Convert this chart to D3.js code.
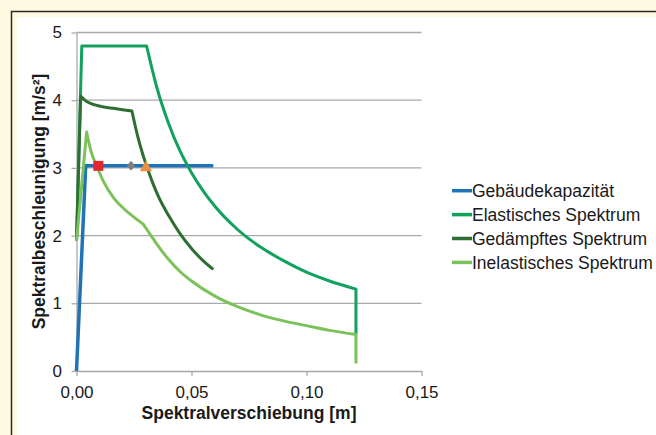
<!DOCTYPE html>
<html>
<head>
<meta charset="utf-8">
<script src="https://cdn.jsdelivr.net/npm/d3@7"></script>
<style>
  body { margin: 0; background: #fefbe2; }
  svg { display: block; font-family: "Liberation Sans", Arial, sans-serif; }
</style>
</head>
<body>
<svg width="656" height="435"></svg>
<script>
// data: [Spektralverschiebung (m), Spektralbeschleunigung (m/s²)]
const capacity = [[0, 0], [0.004, 3.03], [0.0595, 3.03]]

const elastic = [[0, 1.92], [0.0023, 4.8], [0.0305, 4.8], [0.035, 4.18], [0.04, 3.66],
                 [0.045, 3.25], [0.05, 2.93], [0.06, 2.44], [0.07, 2.09], [0.08, 1.83],
                 [0.09, 1.63], [0.10, 1.46], [0.11, 1.33], [0.1215, 1.21], [0.1215, 0.54]]

const damped = [[0, 1.92], [0.0018, 4.06], [0.004, 3.99], [0.008, 3.93], [0.012, 3.9],
                [0.016, 3.88], [0.02, 3.86], [0.0241, 3.84], [0.0265, 3.48], [0.029, 3.18],
                [0.0308, 3.0], [0.033, 2.79], [0.0356, 2.58], [0.04, 2.3], [0.045, 2.03],
                [0.05, 1.81], [0.055, 1.63], [0.0595, 1.5]]

const inelastic = [[0, 1.92], [0.0044, 3.53], [0.0062, 3.26], [0.0089, 3.02], [0.0117, 2.8],
                   [0.0163, 2.55], [0.0205, 2.4], [0.0247, 2.28], [0.029, 2.17], [0.032, 2.02],
                   [0.035, 1.87], [0.04, 1.65], [0.045, 1.47], [0.05, 1.33], [0.06, 1.11],
                   [0.07, 0.95], [0.08, 0.83], [0.09, 0.74], [0.10, 0.67], [0.11, 0.6],
                   [0.1215, 0.54], [0.1215, 0.11]]

// indices where a curve has a sharp corner (smooth runs in between)
const capacityCorners = [0, 1, 2]
const elasticCorners = [0, 1, 2, 13, 14]
const dampedCorners = [0, 1, 7, 17]
const inelasticCorners = [0, 1, 8, 20, 21]

const seriesNames = ['Gebäudekapazität', 'Elastisches Spektrum', 'Gedämpftes Spektrum', 'Inelastisches Spektrum']
const seriesColors = ['#1f73b7', '#12a15e', '#2e6e31', '#7cc25b']

// performance points on the capacity line
const markerX = [0.0095, 0.0237, 0.0302]
const markerY = [3.03, 3.03, 3.03]
const markerColors = ['#e3262b', '#7f7f7f', '#f0903c']

const xTicks = [0, 0.05, 0.10, 0.15]
const yTicks = [0, 1, 2, 3, 4, 5]

const svg = d3.select('svg')

// frame: yellow page, dark border, white chart area
svg.append('rect').attr('width', 656).attr('height', 435).attr('fill', '#fefbe2')
svg.append('rect').attr('x', 17).attr('y', 17).attr('width', 639).attr('height', 418).attr('fill', '#fff')
svg.append('path').attr('d', 'M11.5,435V11.5H656').attr('fill', 'none')
  .attr('stroke', '#2a2a2a').attr('stroke-width', 1.5)

const x = d3.scaleLinear().domain([0, 0.15]).range([76.5, 421.5])
const y = d3.scaleLinear().domain([0, 5]).range([371, 32.5])

const gridColor = '#a9a9a9'

// horizontal gridlines
svg.append('g').selectAll('line')
  .data(yTicks.filter(d => d > 0))
  .enter().append('line')
  .attr('x1', x(0)).attr('x2', x(0.15))
  .attr('y1', d => y(d)).attr('y2', d => y(d))
  .attr('stroke', gridColor).attr('stroke-width', 1.3)

const xAxis = d3.axisBottom(x).tickValues(xTicks).tickSize(5).tickSizeOuter(0).tickPadding(9.5)
  .tickFormat(d => d.toFixed(2).replace('.', ','))
const yAxis = d3.axisLeft(y).tickValues(yTicks).tickSize(5).tickSizeOuter(0).tickPadding(9.5)
  .tickFormat(d3.format('d'))

const gx = svg.append('g').attr('transform', 'translate(0,' + y(0) + ')').call(xAxis)
const gy = svg.append('g').attr('transform', 'translate(' + x(0) + ',0)').call(yAxis)

;[gx, gy].forEach(g => {
  g.select('.domain').attr('stroke', gridColor).attr('stroke-width', 1.3)
  g.selectAll('.tick line').attr('stroke', gridColor).attr('stroke-width', 1.3)
  g.selectAll('.tick text').attr('fill', '#1a1a1a').style('font-size', '17px')
    .style('font-family', '"Liberation Sans", Arial, sans-serif')
})

// axis titles
svg.append('text')
  .attr('x', 249).attr('y', 419)
  .attr('text-anchor', 'middle')
  .style('font-size', '17.5px').style('font-weight', 'bold').attr('fill', '#1a1a1a')
  .text('Spektralverschiebung [m]')

svg.append('text')
  .attr('transform', 'translate(45,201.5) rotate(-90)')
  .attr('text-anchor', 'middle')
  .style('font-size', '17.5px').style('font-weight', 'bold').attr('fill', '#1a1a1a')
  .text('Spektralbeschleunigung [m/s²]')

// curves: smooth between corners, sharp at the corners
const smooth = d3.line().x(d => x(d[0])).y(d => y(d[1])).curve(d3.curveMonotoneX)

function pathWithCorners(points, corners) {
  let d = ''
  for (let k = 0; k < corners.length - 1; k++) {
    let seg = smooth(points.slice(corners[k], corners[k + 1] + 1))
    d += k == 0 ? seg : 'L' + seg.slice(1)
  }
  return d
}

const allSeries = [[capacity, capacityCorners], [elastic, elasticCorners],
                   [damped, dampedCorners], [inelastic, inelasticCorners]]

svg.append('g').selectAll('path')
  .data(allSeries)
  .enter().append('path')
  .attr('d', d => pathWithCorners(d[0], d[1]))
  .attr('fill', 'none')
  .attr('stroke', (d, i) => seriesColors[i])
  .attr('stroke-width', (d, i) => i == 0 ? 3.5 : 3)
  .attr('stroke-linejoin', 'round')

// markers: square, diamond, triangle
const diamond = {
  draw(ctx, size) {
    ctx.moveTo(0, -5); ctx.lineTo(4.2, 0); ctx.lineTo(0, 5); ctx.lineTo(-4.2, 0); ctx.closePath()
  }
}
const markerShapes = [d3.symbolSquare, diamond, d3.symbolTriangle]
const markerSizes = [100, 40, 66]
const markerShift = [0, 0, 1.8]

svg.append('g').selectAll('path')
  .data(markerX)
  .enter().append('path')
  .attr('transform', (d, i) => 'translate(' + x(d) + ',' + (y(markerY[i]) + markerShift[i]) + ')')
  .attr('d', (d, i) => d3.symbol().type(markerShapes[i]).size(markerSizes[i])())
  .attr('fill', (d, i) => markerColors[i])

// legend
const legend = svg.append('g').attr('transform', 'translate(452,190.7)')
const row = legend.selectAll('g')
  .data(seriesNames)
  .enter().append('g')
  .attr('transform', (d, i) => 'translate(0,' + (i * 23.9) + ')')

row.append('line')
  .attr('x1', 0).attr('x2', 20)
  .attr('stroke', (d, i) => seriesColors[i])
  .attr('stroke-width', 3.5)

row.append('text')
  .attr('x', 20).attr('dy', '0.35em')
  .style('font-size', '17.5px').attr('fill', '#1a1a1a')
  .text(d => d)
</script>
</body>
</html>
